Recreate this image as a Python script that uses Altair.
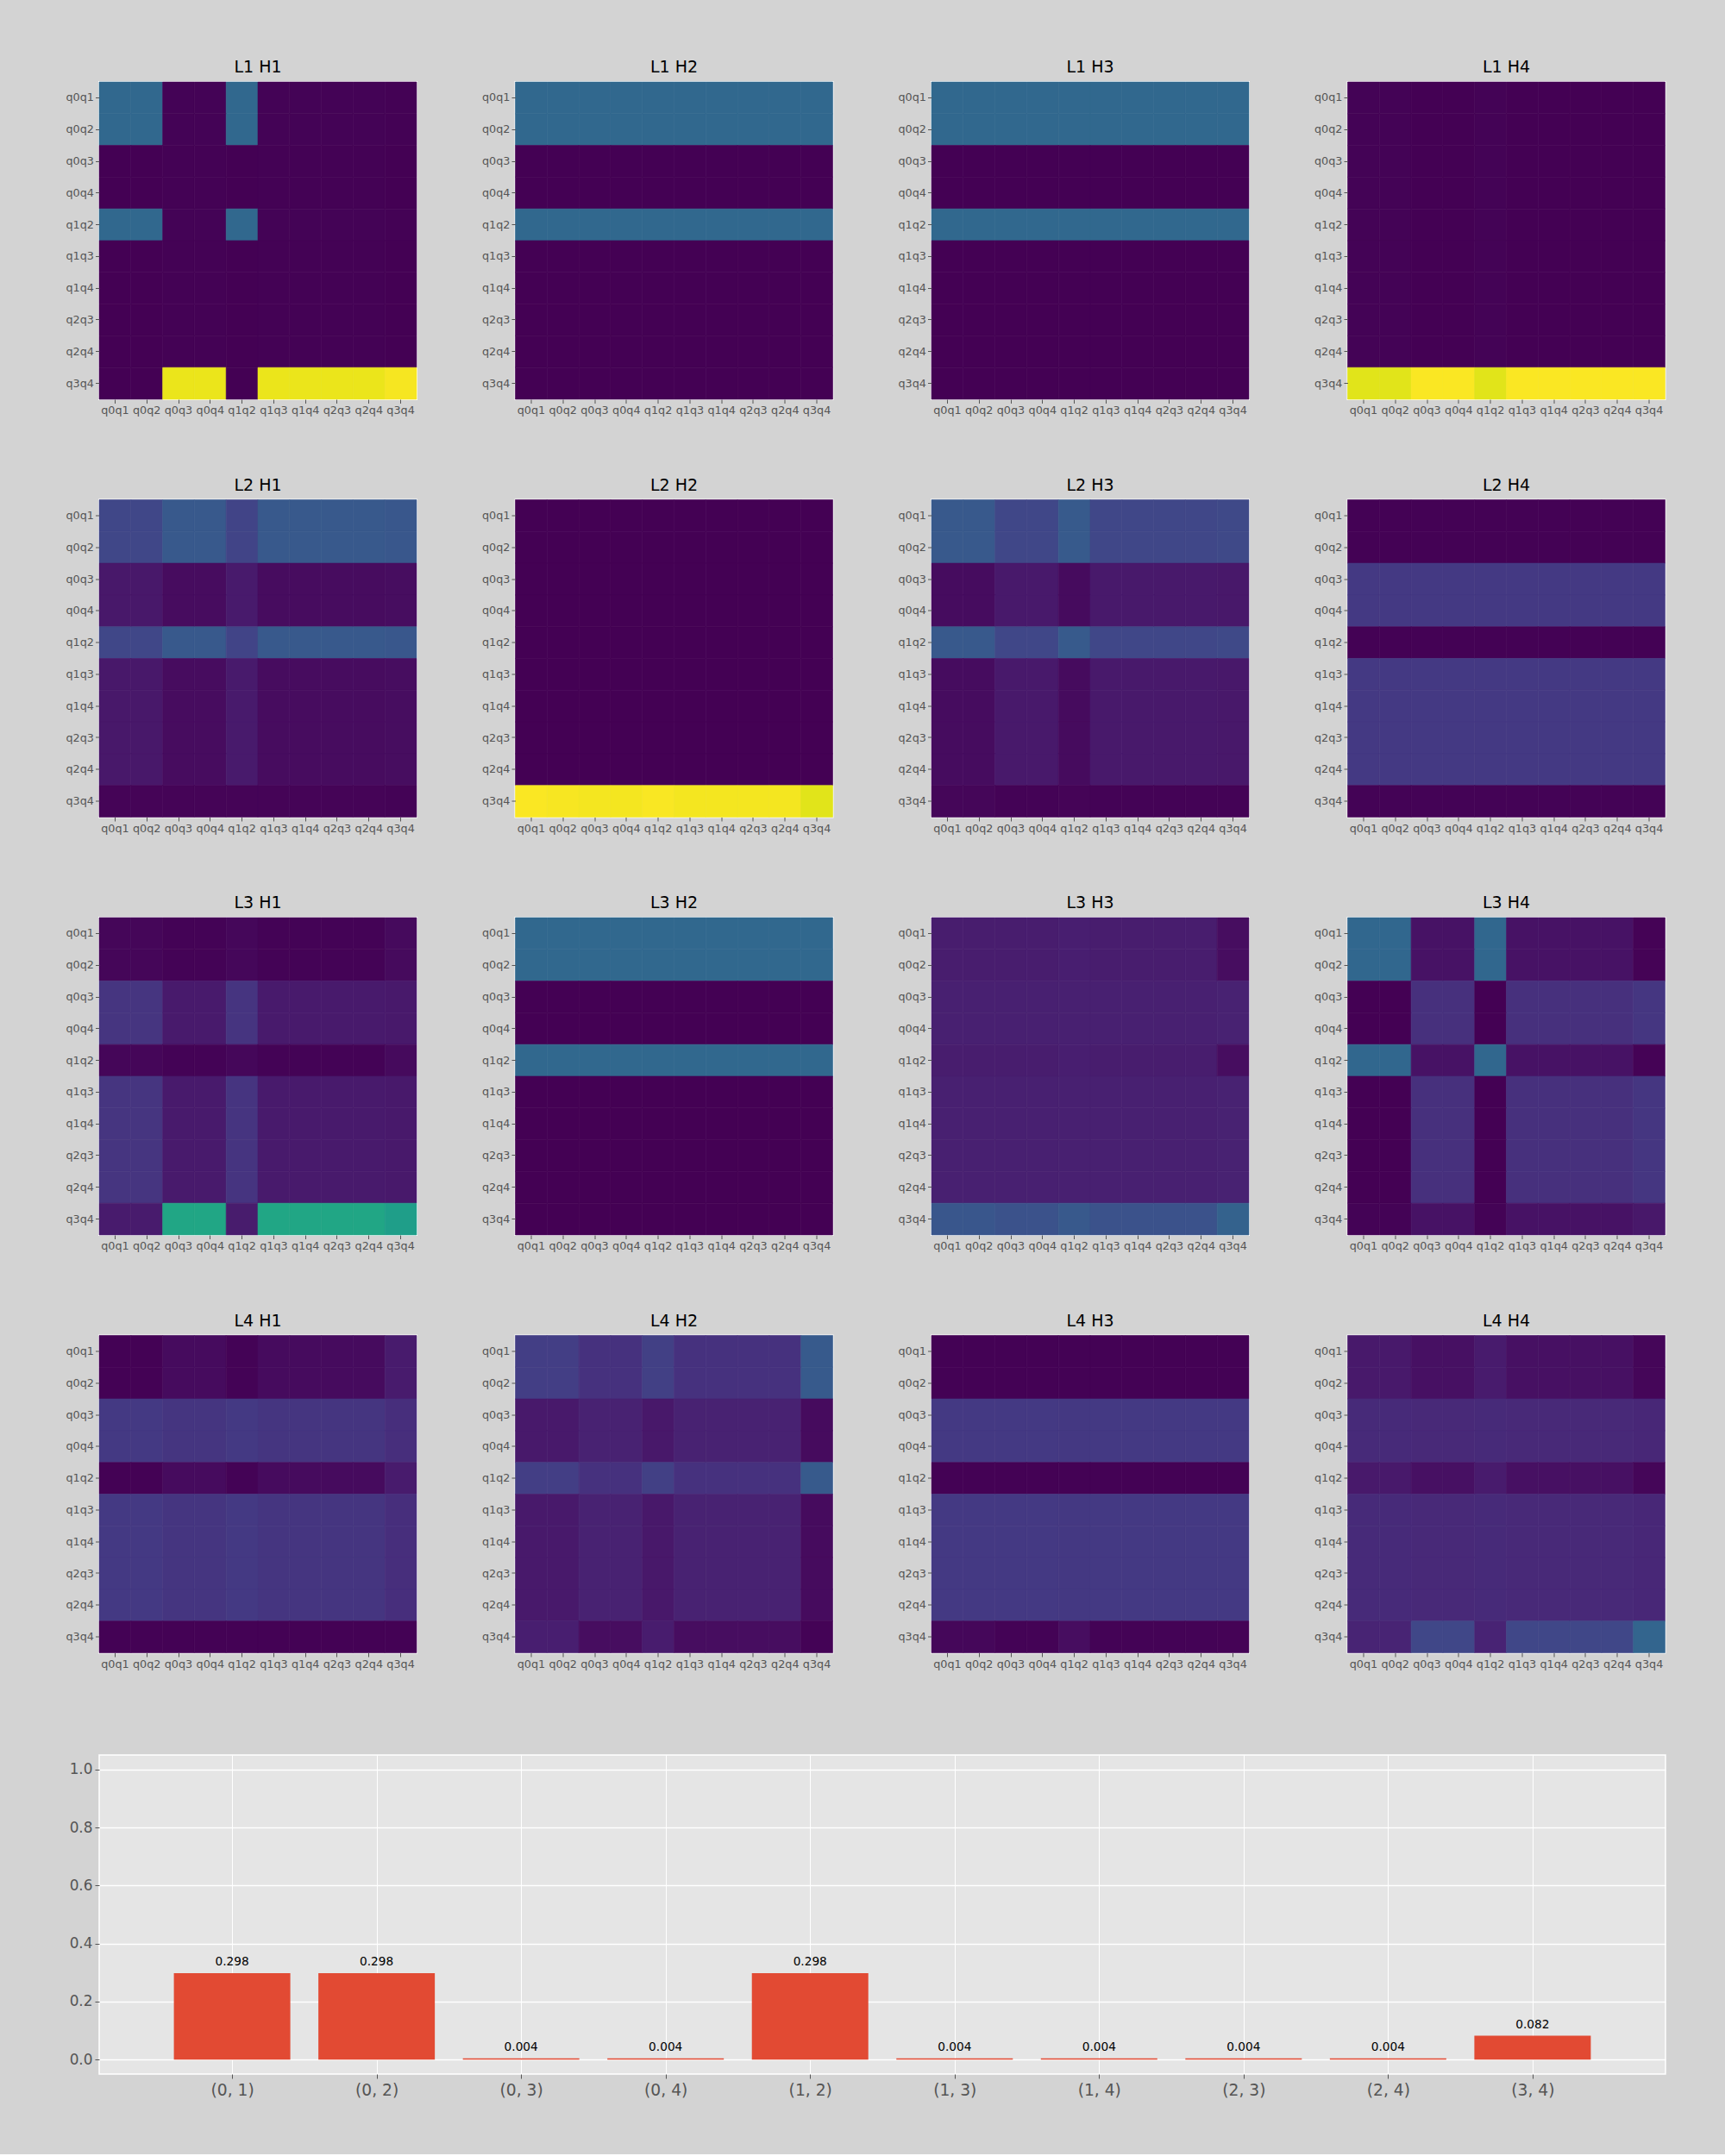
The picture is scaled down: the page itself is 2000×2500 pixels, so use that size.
import altair as alt
import pandas as pd

LABELS = ["q0q1", "q0q2", "q0q3", "q0q4", "q1q2", "q1q3", "q1q4", "q2q3", "q2q4", "q3q4"]
# which stored row-profile each row label uses (rows within a group read identical)
ROW_PROFILE = ["A", "A", "B", "B", "A", "B", "B", "B", "B", "C"]

# ---- heatmap values, one list per row group, 10 columns each ----
L1H1_A = [0.332, 0.332, 0.004, 0.004, 0.332, 0.004, 0.004, 0.004, 0.004, 0.002]
L1H1_B = [0.0005, 0.0005, 0.003, 0.003, 0.0005, 0.003, 0.003, 0.003, 0.003, 0.001]
L1H1_C = [0.001, 0.001, 0.970, 0.970, 0.001, 0.970, 0.970, 0.970, 0.970, 0.988]

L1H2_A = [0.333, 0.333, 0.333, 0.333, 0.333, 0.333, 0.333, 0.333, 0.333, 0.333]
L1H2_B = [0.0003, 0.0003, 0.0003, 0.0003, 0.0003, 0.0003, 0.0003, 0.0003, 0.0003, 0.0003]
L1H2_C = [0.0003, 0.0003, 0.0003, 0.0003, 0.0003, 0.0003, 0.0003, 0.0003, 0.0003, 0.0003]

L1H3_A = [0.333, 0.333, 0.333, 0.333, 0.333, 0.333, 0.333, 0.333, 0.333, 0.333]
L1H3_B = [0.0003, 0.0003, 0.0003, 0.0003, 0.0003, 0.0003, 0.0003, 0.0003, 0.0003, 0.0003]
L1H3_C = [0.0003, 0.0003, 0.0003, 0.0003, 0.0003, 0.0003, 0.0003, 0.0003, 0.0003, 0.0003]

L1H4_A = [0.005, 0.005, 0.0005, 0.0005, 0.005, 0.0005, 0.0005, 0.0005, 0.0005, 0.0005]
L1H4_B = [0.004, 0.004, 0.0005, 0.0005, 0.004, 0.0005, 0.0005, 0.0005, 0.0005, 0.0005]
L1H4_C = [0.955, 0.955, 0.995, 0.995, 0.955, 0.995, 0.995, 0.995, 0.995, 0.995]

L2H1_A = [0.210, 0.210, 0.275, 0.275, 0.200, 0.275, 0.275, 0.275, 0.275, 0.270]
L2H1_B = [0.062, 0.062, 0.028, 0.028, 0.066, 0.028, 0.028, 0.028, 0.028, 0.030]
L2H1_C = [0.008, 0.008, 0.007, 0.007, 0.008, 0.007, 0.007, 0.007, 0.007, 0.005]

L2H2_A = [0.0005, 0.0005, 0.0005, 0.0005, 0.0005, 0.0005, 0.0005, 0.0005, 0.0005, 0.0005]
L2H2_B = [0.0005, 0.0005, 0.0005, 0.0005, 0.0005, 0.0005, 0.0005, 0.0005, 0.0005, 0.0005]
L2H2_C = [0.995, 0.990, 0.985, 0.985, 0.993, 0.985, 0.985, 0.985, 0.985, 0.955]

L2H3_A = [0.275, 0.275, 0.210, 0.210, 0.280, 0.210, 0.210, 0.210, 0.210, 0.215]
L2H3_B = [0.027, 0.027, 0.063, 0.063, 0.025, 0.063, 0.063, 0.063, 0.063, 0.062]
L2H3_C = [0.013, 0.013, 0.005, 0.005, 0.007, 0.005, 0.005, 0.005, 0.005, 0.005]

L2H4_A = [0.002, 0.002, 0.002, 0.002, 0.002, 0.002, 0.002, 0.002, 0.002, 0.002]
L2H4_B = [0.165, 0.165, 0.165, 0.165, 0.165, 0.165, 0.165, 0.165, 0.165, 0.165]
L2H4_C = [0.004, 0.004, 0.004, 0.004, 0.004, 0.004, 0.004, 0.004, 0.004, 0.004]

L3H1_A = [0.012, 0.012, 0.004, 0.004, 0.016, 0.004, 0.004, 0.004, 0.004, 0.022]
L3H1_B = [0.150, 0.150, 0.066, 0.066, 0.148, 0.066, 0.066, 0.066, 0.066, 0.063]
L3H1_C = [0.070, 0.070, 0.590, 0.590, 0.072, 0.590, 0.590, 0.590, 0.590, 0.560]

L3H2_A = [0.333, 0.333, 0.333, 0.333, 0.333, 0.333, 0.333, 0.333, 0.333, 0.333]
L3H2_B = [0.0003, 0.0003, 0.0003, 0.0003, 0.0003, 0.0003, 0.0003, 0.0003, 0.0003, 0.0003]
L3H2_C = [0.0003, 0.0003, 0.0003, 0.0003, 0.0003, 0.0003, 0.0003, 0.0003, 0.0003, 0.0003]

L3H3_A = [0.075, 0.075, 0.075, 0.075, 0.080, 0.075, 0.075, 0.075, 0.075, 0.030]
L3H3_B = [0.085, 0.085, 0.085, 0.085, 0.085, 0.085, 0.085, 0.085, 0.085, 0.090]
L3H3_C = [0.265, 0.265, 0.250, 0.250, 0.275, 0.250, 0.250, 0.250, 0.250, 0.310]

L3H4_A = [0.330, 0.330, 0.045, 0.045, 0.330, 0.045, 0.045, 0.045, 0.045, 0.006]
L3H4_B = [0.001, 0.001, 0.135, 0.135, 0.001, 0.135, 0.135, 0.135, 0.135, 0.155]
L3H4_C = [0.004, 0.004, 0.045, 0.045, 0.004, 0.045, 0.045, 0.045, 0.045, 0.060]

L4H1_A = [0.003, 0.003, 0.025, 0.025, 0.005, 0.025, 0.025, 0.025, 0.025, 0.070]
L4H1_B = [0.165, 0.165, 0.152, 0.152, 0.164, 0.152, 0.152, 0.152, 0.152, 0.130]
L4H1_C = [0.003, 0.003, 0.003, 0.003, 0.003, 0.003, 0.003, 0.003, 0.003, 0.003]

L4H2_A = [0.180, 0.180, 0.140, 0.140, 0.185, 0.140, 0.140, 0.140, 0.140, 0.280]
L4H2_B = [0.063, 0.063, 0.090, 0.090, 0.062, 0.090, 0.090, 0.090, 0.090, 0.026]
L4H2_C = [0.080, 0.080, 0.030, 0.030, 0.073, 0.030, 0.030, 0.030, 0.030, 0.004]

L4H3_A = [0.003, 0.003, 0.003, 0.003, 0.003, 0.003, 0.003, 0.003, 0.003, 0.003]
L4H3_B = [0.164, 0.164, 0.164, 0.164, 0.162, 0.164, 0.164, 0.164, 0.164, 0.164]
L4H3_C = [0.016, 0.016, 0.004, 0.004, 0.030, 0.004, 0.004, 0.004, 0.004, 0.006]

L4H4_A = [0.065, 0.065, 0.040, 0.040, 0.070, 0.040, 0.040, 0.040, 0.040, 0.012]
L4H4_B = [0.118, 0.118, 0.112, 0.112, 0.117, 0.112, 0.112, 0.112, 0.112, 0.108]
L4H4_C = [0.097, 0.097, 0.210, 0.210, 0.095, 0.210, 0.210, 0.210, 0.210, 0.320]

HEADS = [
    ["L1 H1", (L1H1_A, L1H1_B, L1H1_C)], ["L1 H2", (L1H2_A, L1H2_B, L1H2_C)],
    ["L1 H3", (L1H3_A, L1H3_B, L1H3_C)], ["L1 H4", (L1H4_A, L1H4_B, L1H4_C)],
    ["L2 H1", (L2H1_A, L2H1_B, L2H1_C)], ["L2 H2", (L2H2_A, L2H2_B, L2H2_C)],
    ["L2 H3", (L2H3_A, L2H3_B, L2H3_C)], ["L2 H4", (L2H4_A, L2H4_B, L2H4_C)],
    ["L3 H1", (L3H1_A, L3H1_B, L3H1_C)], ["L3 H2", (L3H2_A, L3H2_B, L3H2_C)],
    ["L3 H3", (L3H3_A, L3H3_B, L3H3_C)], ["L3 H4", (L3H4_A, L3H4_B, L3H4_C)],
    ["L4 H1", (L4H1_A, L4H1_B, L4H1_C)], ["L4 H2", (L4H2_A, L4H2_B, L4H2_C)],
    ["L4 H3", (L4H3_A, L4H3_B, L4H3_C)], ["L4 H4", (L4H4_A, L4H4_B, L4H4_C)],
]

# ---- bar chart values ----
PAIRS = ["(0, 1)", "(0, 2)", "(0, 3)", "(0, 4)", "(1, 2)", "(1, 3)", "(1, 4)", "(2, 3)", "(2, 4)", "(3, 4)"]
PROBS = [0.298, 0.298, 0.004, 0.004, 0.298, 0.004, 0.004, 0.004, 0.004, 0.082]

FONT = "DejaVu Sans"
TICK_GREY = "#555555"
HM = 368
YEXT = 40   # reserved width of heatmap y axis
XEXT = 25   # reserved height of heatmap x axis

VIRIDIS = alt.Scale(scheme="viridis", domain=[0, 1])


def heatmap(title, profiles):
    prof = dict(zip(["A", "B", "C"], profiles))
    recs = []
    for r, rlab in enumerate(LABELS):
        vals = prof[ROW_PROFILE[r]]
        for c, clab in enumerate(LABELS):
            recs.append({"row": rlab, "col": clab, "v": vals[c]})
    df = pd.DataFrame(recs)
    ax = dict(domain=False, grid=False, ticks=True, tickSize=4.5, tickColor=TICK_GREY,
              tickWidth=1, labelColor=TICK_GREY, labelFontSize=12.8, labelFont=FONT,
              labelPadding=2, title=None)
    return alt.Chart(df, title=alt.TitleParams(title, fontSize=19, fontWeight="normal",
                                                 font=FONT, color="black", offset=6.5)).mark_rect(
        strokeWidth=0.6).encode(
        x=alt.X("col:N", sort=LABELS, axis=alt.Axis(labelAngle=0, minExtent=XEXT, maxExtent=XEXT, **ax)),
        y=alt.Y("row:N", sort=LABELS, axis=alt.Axis(minExtent=YEXT, maxExtent=YEXT, **ax)),
        color=alt.Color("v:Q", scale=VIRIDIS, legend=None),
        stroke=alt.Stroke("v:Q", scale=VIRIDIS, legend=None),
    ).properties(width=HM, height=HM, view=alt.ViewBackground(stroke="white", strokeWidth=2))


grid = alt.concat(*[heatmap(t, p) for t, p in HEADS], columns=4,
                  spacing={"column": 71.5, "row": 63.5})

bdf = pd.DataFrame({"pair": PAIRS, "p": PROBS, "i": list(range(len(PAIRS)))})
label_expr = "[" + ",".join("'%s'" % s for s in PAIRS) + "][datum.value]"
xenc = alt.X("i:Q", scale=alt.Scale(domain=[-0.89, 9.89], nice=False, zero=False),
             axis=alt.Axis(values=list(range(10)), labelExpr=label_expr, title=None, grid=True,
                           gridColor="white", gridWidth=1, domain=False, tickSize=5,
                           tickColor=TICK_GREY, labelColor=TICK_GREY, labelFontSize=18.7,
                           labelFont=FONT, labelPadding=4))
yscale = alt.Scale(domain=[-0.05, 1.05], nice=False, zero=False)
yaxis = alt.Axis(values=[0, 0.2, 0.4, 0.6, 0.8, 1.0], format=".1f", title=None, grid=True,
                 gridColor="white", gridWidth=1.3, domain=False, tickSize=5, tickColor=TICK_GREY,
                 labelColor=TICK_GREY, labelFontSize=16.9, labelFont=FONT, labelPadding=3,
                 minExtent=34, maxExtent=34)
base = alt.Chart(bdf).encode(x=xenc)
bars = base.mark_bar(size=135, color="#E24A33").encode(
    y=alt.Y("p:Q", scale=yscale, axis=yaxis, stack=None), y2=alt.datum(0))
txt = base.mark_text(baseline="bottom", dy=-6, fontSize=13.7, font=FONT, color="black").encode(
    y=alt.Y("p:Q", scale=yscale), text=alt.Text("p:Q", format=".3f"))
barchart = alt.layer(bars, txt).properties(
    width=1816, height=370, view=alt.ViewBackground(fill="#E5E5E5", stroke="white", strokeWidth=1.5))

chart = alt.vconcat(grid, barchart, spacing=91).properties(
    background="#d3d3d3", padding={"left": 74, "top": 68, "right": 68, "bottom": 63.5}
).configure_view(strokeWidth=0)

chart.save("out.html", embed_options={"renderer": "svg", "actions": False})
